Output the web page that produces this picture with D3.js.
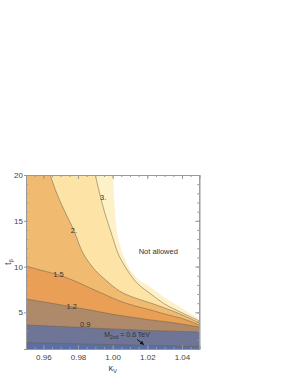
<!DOCTYPE html>
<html>
<head>
<meta charset="utf-8">
<script src="https://cdn.jsdelivr.net/npm/d3@7"></script>
<style>
  body { margin: 0; background: #fff; }
  svg text { font-family: "Liberation Sans", Arial, sans-serif; }
</style>
</head>
<body>
<svg id="chart"></svg>
<script>
const width = 289;
const height = 374;
const margin = {left: 26, top: 175, right: 90, bottom: 25};

// contour curves of M_2nd (TeV), as [kappa_V, t_beta]
const levels = ["0.6", "0.9", "1.2", "1.5", "2.", "3."];
const contour06 = [[0.95, 1.69], [1.00, 1.48], [1.05, 1.27]];
const contour09 = [[0.95, 3.62], [0.97, 3.46], [0.99, 3.27], [1.02, 3.03], [1.05, 2.86]];
const contour12 = [[0.95, 6.46], [0.964, 6.02], [0.977, 5.59], [0.987, 5.26], [0.999, 4.82],
                   [1.010, 4.49], [1.022, 4.17], [1.036, 3.84], [1.05, 3.40]];
const contour15 = [[0.95, 10.06], [0.958, 9.63], [0.969, 9.08], [0.978, 8.43], [0.987, 7.66],
                   [0.996, 6.90], [1.004, 6.24], [1.013, 5.70], [1.022, 5.26], [1.030, 4.82],
                   [1.039, 4.39], [1.05, 3.62]];
const contour20 = [[0.964, 20], [0.967, 18.36], [0.972, 16.17], [0.978, 13.78], [0.982, 11.81],
                   [0.987, 10.28], [0.996, 8.53], [1.004, 7.33], [1.013, 6.57], [1.022, 6.02],
                   [1.030, 5.48], [1.039, 4.82], [1.05, 3.84]];
const contour30 = [[0.990, 20], [0.992, 18.36], [0.995, 16.17], [0.999, 13.78], [1.003, 11.48],
                   [1.007, 10.06], [1.013, 8.43], [1.022, 7.01], [1.030, 5.91], [1.039, 5.04],
                   [1.05, 4.06]];
// edge of the allowed region
const limitCurve = [[1.0003, 20], [1.0009, 17.27], [1.002, 14.54], [1.0043, 12.36], [1.0078, 10.5],
                    [1.013, 8.97], [1.0217, 7.77], [1.0303, 6.57], [1.039, 5.59], [1.05, 4.28]];

const contours = [contour06, contour09, contour12, contour15, contour20, contour30];
const bandColors = ["#5b6fa7", "#6f7596", "#ae8a6b", "#e99f55", "#f0bb71", "#fde4a6", "#fef1c7"];

// label positions on the curves
const labelPos = [null, [0.9841, 3.73], [0.9764, 5.62], [0.9687, 9.19], [0.9777, 13.99], [0.9945, 17.6]];

const xTicks = [0.96, 0.98, 1.00, 1.02, 1.04];
const yTicks = [5, 10, 15, 20];
const xMinor = d3.range(0.95, 1.0501, 0.005);
const yMinor = d3.range(1, 20.01, 1);

const svg = d3.select("#chart")
    .attr("width", width)
    .attr("height", height);

const x = d3.scaleLinear().domain([0.95, 1.05]).range([margin.left, width - margin.right + 0.3]);
const y = d3.scaleLinear().domain([1, 20]).range([height - margin.bottom, margin.top]);

svg.append("clipPath").attr("id", "plot")
  .append("rect")
    .attr("x", x(0.95)).attr("y", y(20))
    .attr("width", x(1.05) - x(0.95)).attr("height", y(1) - y(20));

const line = d3.line()
    .x(d => x(d[0]))
    .y(d => y(d[1]))
    .curve(d3.curveMonotoneX);

// region above/right of a curve, closed along the top edge
const regionPath = pts => line(pts) + "L" + x(1.05) + "," + y(20) + "L" + x(0.95) + "," + y(20) + "Z";

const plot = svg.append("g").attr("clip-path", "url(#plot)");

plot.append("rect")
    .attr("x", x(0.95)).attr("y", y(20))
    .attr("width", x(1.05) - x(0.95)).attr("height", y(1) - y(20))
    .attr("fill", bandColors[0]);

contours.forEach((c, i) => {
  plot.append("path")
      .attr("d", regionPath(c))
      .attr("fill", bandColors[i + 1]);
});

plot.append("path")
    .attr("d", regionPath(limitCurve))
    .attr("fill", "#fff");

contours.forEach(c => {
  plot.append("path")
      .attr("d", line(c))
      .attr("fill", "none")
      .attr("stroke", "#6b5f4a")
      .attr("stroke-opacity", 0.75)
      .attr("stroke-width", 0.7);
});

// contour labels
levels.forEach((lv, i) => {
  if (!labelPos[i]) return;
  plot.append("text")
      .attr("x", x(labelPos[i][0]))
      .attr("y", y(labelPos[i][1]))
      .attr("dy", "0.35em")
      .attr("text-anchor", "middle")
      .attr("font-size", 7.5)
      .attr("fill", "#333")
      .text(lv);
});

// annotation for the lowest contour
const noteText = svg.append("text")
    .attr("x", x(0.9951))
    .attr("y", y(2.31))
    .attr("font-size", 7)
    .attr("fill", "#333");
noteText.append("tspan").text("M");
noteText.append("tspan").attr("font-size", 5).attr("dy", 1.5).text("2nd");
noteText.append("tspan").attr("dy", -1.5).text(" = " + levels[0] + " TeV");

svg.append("defs").append("marker")
    .attr("id", "head")
    .attr("viewBox", "0 0 10 10")
    .attr("refX", 9).attr("refY", 5)
    .attr("markerWidth", 4).attr("markerHeight", 4)
    .attr("orient", "auto")
  .append("path")
    .attr("d", "M0,0L10,5L0,10Z")
    .attr("fill", "#111");

svg.append("line")
    .attr("x1", x(1.0142)).attr("y1", y(2.04))
    .attr("x2", x(1.0179)).attr("y2", y(1.49))
    .attr("stroke", "#111")
    .attr("stroke-width", 1)
    .attr("marker-end", "url(#head)");

svg.append("text")
    .attr("x", x(1.0263))
    .attr("y", y(11.7))
    .attr("dy", "0.35em")
    .attr("text-anchor", "middle")
    .attr("font-size", 7.5)
    .attr("fill", "#333")
    .text("Not allowed");

// frame and ticks
const styleAxis = g => {
  g.select(".domain").attr("stroke", "#999");
  g.selectAll(".tick line").attr("stroke", "#999");
  g.selectAll(".tick text").attr("fill", "#444").attr("font-size", 8);
};

svg.append("g")
    .attr("transform", `translate(0,${y(1)})`)
    .call(d3.axisBottom(x).tickValues(xMinor).tickSize(-2).tickFormat(""))
    .call(styleAxis);
svg.append("g")
    .attr("transform", `translate(0,${y(1)})`)
    .call(d3.axisBottom(x).tickValues(xTicks).tickSize(-4).tickPadding(5).tickFormat(d3.format(".2f")))
    .call(styleAxis);
svg.append("g")
    .attr("transform", `translate(0,${y(20)})`)
    .call(d3.axisTop(x).tickValues(xMinor).tickSize(-2).tickFormat(""))
    .call(styleAxis);
svg.append("g")
    .attr("transform", `translate(0,${y(20)})`)
    .call(d3.axisTop(x).tickValues(xTicks).tickSize(-4).tickFormat(""))
    .call(styleAxis);

svg.append("g")
    .attr("transform", `translate(${x(0.95)},0)`)
    .call(d3.axisLeft(y).tickValues(yMinor).tickSize(-2).tickFormat(""))
    .call(styleAxis);
svg.append("g")
    .attr("transform", `translate(${x(0.95)},0)`)
    .call(d3.axisLeft(y).tickValues(yTicks).tickSize(2).tickPadding(1))
    .call(styleAxis);
svg.append("g")
    .attr("transform", `translate(${x(1.05)},0)`)
    .call(d3.axisRight(y).tickValues(yMinor).tickSize(-2).tickFormat(""))
    .call(styleAxis);
svg.append("g")
    .attr("transform", `translate(${x(1.05)},0)`)
    .call(d3.axisRight(y).tickValues(yTicks).tickSize(-4).tickFormat(""))
    .call(styleAxis);

// axis titles
const xTitle = svg.append("text")
    .attr("x", (x(0.95) + x(1.05)) / 2)
    .attr("y", 371)
    .attr("text-anchor", "middle")
    .attr("font-size", 9)
    .attr("fill", "#444");
xTitle.append("tspan").text("κ");
xTitle.append("tspan").attr("font-size", 6).attr("dy", 2).text("V");

const yTitle = svg.append("text")
    .attr("transform", `translate(11,${(y(1) + y(20)) / 2}) rotate(-90)`)
    .attr("text-anchor", "middle")
    .attr("font-size", 9)
    .attr("fill", "#444");
yTitle.append("tspan").text("t");
yTitle.append("tspan").attr("font-size", 6).attr("dy", 2).text("β");
</script>
</body>
</html>
